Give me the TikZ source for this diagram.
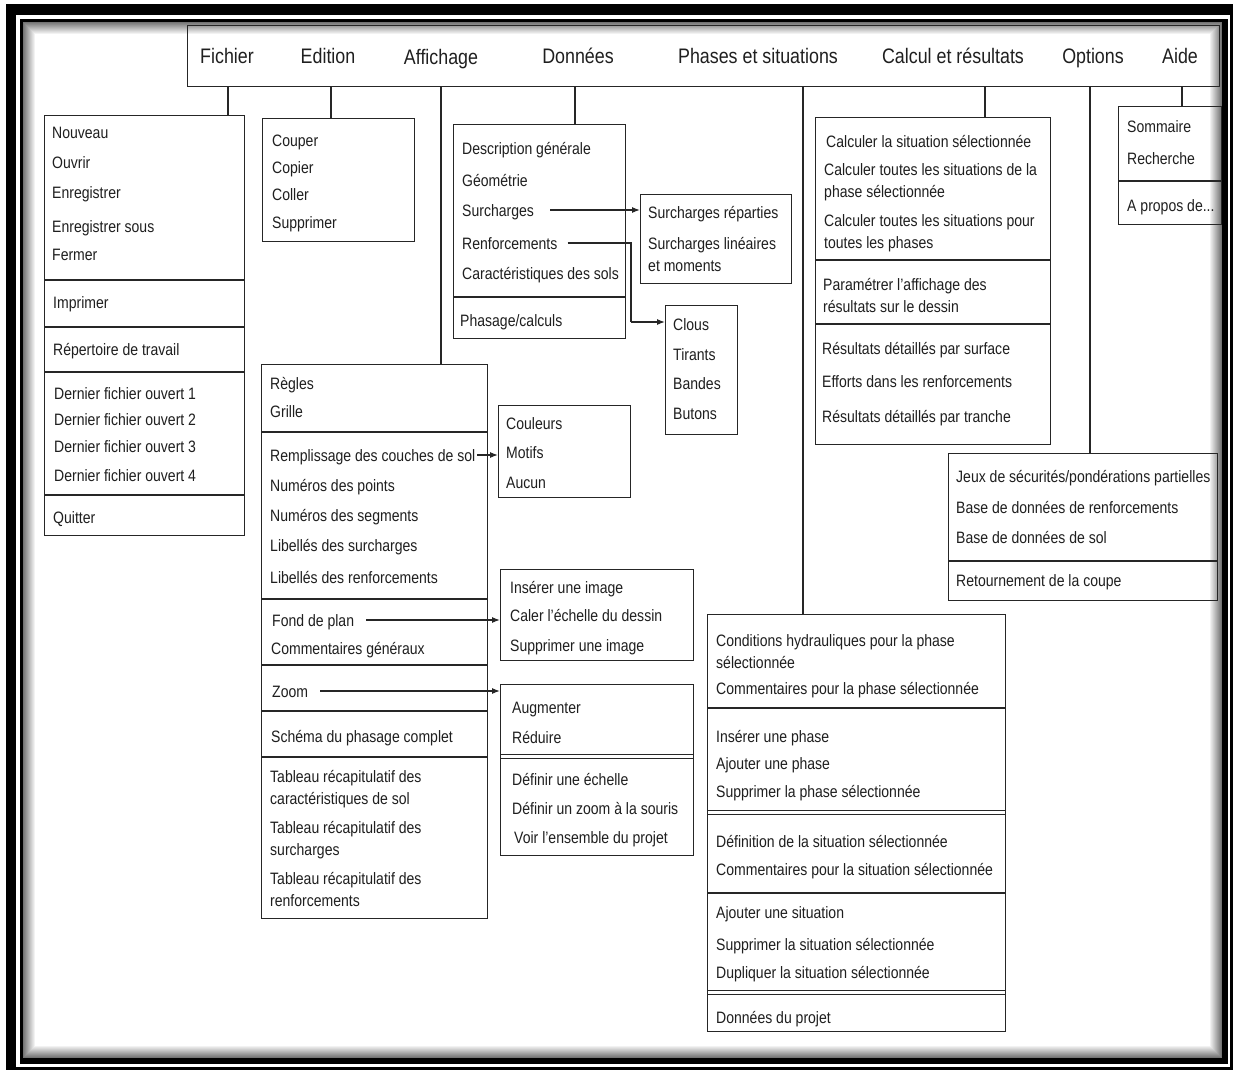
\documentclass[tikz,border=0pt]{standalone}
\usepackage{fontspec}
\setmainfont{Liberation Sans}[FakeStretch=0.85]
\usepackage{tikz}
\usetikzlibrary{arrows.meta}

\tikzset{
  menu/.style={font=\fontsize{21}{24}\selectfont, text=black!88, inner sep=0pt, text height=15pt, text depth=0pt},
  item/.style={font=\fontsize{16.5}{22}\selectfont, text=black!88, inner sep=0pt, anchor=west, text height=15pt, text depth=2pt},
  item2/.style={font=\fontsize{16.5}{22}\selectfont, text=black!88, inner sep=0pt, anchor=west, align=left, yshift=-1.5pt},
  menubox/.style={draw=black!85, line width=1.4pt, anchor=north west, inner sep=0pt},
  sep/.style={draw=black!85, line width=1.4pt},
  link/.style={draw=black!85, line width=1.2pt},
  arr/.style={link, -{Latex[length=8pt,width=6pt]}},
}

\begin{document}
\begin{tikzpicture}[x=1pt,y=-1pt]
   \useasboundingbox (0,0) rectangle (1236,1072);
   % cadre
   \fill[black] (6,4) rectangle (1233,1070);
   \fill[white] (16,15) rectangle (1230,1067);
   \fill[black] (20,19) rectangle (1228,1064);
   \fill[white] (23,22) rectangle (1222,1058);
   \foreach \k in {0,...,11} {
     \pgfmathtruncatemacro\g{55-4.5*\k}
     \draw[black!\g, line width=1pt] (23.5+\k,22.5+\k) rectangle (1221.5-\k,1057.5-\k);
   }

   % barre de menus
   \node[menubox, minimum width=1032pt, minimum height=61pt] (bar) at (187,25) {};
   \node[menu] (mFichier) at (227,56) {Fichier};
   \node[menu] (mEdition) at (328,56) {Edition};
   \node[menu] (mAffichage) at (441,57) {Affichage};
   \node[menu] (mDonnees) at (578,56) {Données};
   \node[menu] (mPhases) at (758,56) {Phases et situations};
   \node[menu] (mCalcul) at (953,56) {Calcul et résultats};
   \node[menu] (mOptions) at (1093,56) {Options};
   \node[menu] (mAide) at (1180,56) {Aide};

   % menus deroulants
   \node[menubox, minimum width=200pt, minimum height=420pt] (bFichier) at (44,115) {};
   \node[menubox, minimum width=152pt, minimum height=123pt] (bEdition) at (262,118) {};
   \node[menubox, minimum width=172pt, minimum height=214pt] (bDonnees) at (453,124) {};
   \node[menubox, minimum width=151pt, minimum height=89pt] (bSurch) at (640,194) {};
   \node[menubox, minimum width=72pt, minimum height=129pt] (bRenf) at (665,305) {};
   \node[menubox, minimum width=226pt, minimum height=554pt] (bAffichage) at (261,364) {};
   \node[menubox, minimum width=132pt, minimum height=92pt] (bCouleurs) at (498,405) {};
   \node[menubox, minimum width=193pt, minimum height=91pt] (bImage) at (500,569) {};
   \node[menubox, minimum width=193pt, minimum height=171pt] (bZoom) at (500,684) {};
   \node[menubox, minimum width=235pt, minimum height=327pt] (bCalcul) at (815,117) {};
   \node[menubox, minimum width=103pt, minimum height=118pt] (bAide) at (1118,106) {};
   \node[menubox, minimum width=269pt, minimum height=147pt] (bOptions) at (948,453) {};
   \node[menubox, minimum width=298pt, minimum height=417pt] (bPhases) at (707,614) {};

   % separateurs
   \foreach \b/\y in {bFichier/280, bFichier/327, bFichier/372, bFichier/495,
                      bDonnees/297, bAffichage/432, bAffichage/599, bAffichage/665,
                      bAffichage/711, bAffichage/757, bCalcul/260, bCalcul/324,
                      bAide/181, bOptions/561, bPhases/708, bPhases/893}
     \draw[sep] (\b.west |- 0,\y) -- (\b.east |- 0,\y);
   \foreach \b/\y in {bZoom/754, bPhases/810, bPhases/990}
     \draw[sep, line width=1pt] (\b.west |- 0,\y) -- (\b.east |- 0,\y)
                                (\b.west |- 0,\y+4) -- (\b.east |- 0,\y+4);

   % Fichier
   \node[item] (iNouveau) at (52,132) {Nouveau};
   \node[item] (iOuvrir) at (52,162) {Ouvrir};
   \node[item] (iEnreg) at (52,192) {Enregistrer};
   \node[item] (iEnregSous) at (52,226) {Enregistrer sous};
   \node[item] (iFermer) at (52,254) {Fermer};
   \node[item] (iImprimer) at (53,302) {Imprimer};
   \node[item] (iRepertoire) at (53,349) {Répertoire de travail};
   \node[item] (iDernierA) at (54,393) {Dernier fichier ouvert 1};
   \node[item] (iDernierB) at (54,419) {Dernier fichier ouvert 2};
   \node[item] (iDernierC) at (54,446) {Dernier fichier ouvert 3};
   \node[item] (iDernierD) at (54,475) {Dernier fichier ouvert 4};
   \node[item] (iQuitter) at (53,517) {Quitter};

   % Edition
   \node[item] (iCouper) at (272,140) {Couper};
   \node[item] (iCopier) at (272,167) {Copier};
   \node[item] (iColler) at (272,194) {Coller};
   \node[item] (iSupprimer) at (272,222) {Supprimer};

   % Donnees
   \node[item] (iDescription) at (462,148) {Description générale};
   \node[item] (iGeometrie) at (462,180) {Géométrie};
   \node[item] (iSurcharges) at (462,210) {Surcharges};
   \node[item] (iRenforcements) at (462,243) {Renforcements};
   \node[item] (iCaract) at (462,273) {Caractéristiques des sols};
   \node[item] (iPhasage) at (460,320) {Phasage/calculs};
   \node[item] (iRepart) at (648,212) {Surcharges réparties};
   \node[item2] (iLineaires) at (648,253) {Surcharges linéaires\\et moments};
   \node[item] (iClous) at (673,324) {Clous};
   \node[item] (iTirants) at (673,354) {Tirants};
   \node[item] (iBandes) at (673,383) {Bandes};
   \node[item] (iButons) at (673,413) {Butons};

   % Affichage
   \node[item] (iRegles) at (270,383) {Règles};
   \node[item] (iGrille) at (270,411) {Grille};
   \node[item] (iRemplissage) at (270,455) {Remplissage des couches de sol};
   \node[item] (iNumPoints) at (270,485) {Numéros des points};
   \node[item] (iNumSegments) at (270,515) {Numéros des segments};
   \node[item] (iLibSurch) at (270,545) {Libellés des surcharges};
   \node[item] (iLibRenf) at (270,577) {Libellés des renforcements};
   \node[item] (iFond) at (272,620) {Fond de plan};
   \node[item] (iComGen) at (271,648) {Commentaires généraux};
   \node[item] (iZoom) at (272,691) {Zoom};
   \node[item] (iSchema) at (271,736) {Schéma du phasage complet};
   \node[item2] (iTabSol) at (270,788) {Tableau récapitulatif des\\caractéristiques de sol};
   \node[item2] (iTabSurch) at (270,839) {Tableau récapitulatif des\\surcharges};
   \node[item2] (iTabRenf) at (270,888) {Tableau récapitulatif des\\renforcements};
   \node[item] (iCouleurs) at (506,423) {Couleurs};
   \node[item] (iMotifs) at (506,452) {Motifs};
   \node[item] (iAucun) at (506,482) {Aucun};
   \node[item] (iInserer) at (510,587) {Insérer une image};
   \node[item] (iCaler) at (510,615) {Caler l'échelle du dessin};
   \node[item] (iSupprImage) at (510,645) {Supprimer une image};
   \node[item] (iAugmenter) at (512,707) {Augmenter};
   \node[item] (iReduire) at (512,737) {Réduire};
   \node[item] (iEchelle) at (512,779) {Définir une échelle};
   \node[item] (iZoomSouris) at (512,808) {Définir un zoom à la souris};
   \node[item] (iEnsemble) at (514,837) {Voir l'ensemble du projet};

   % Phases et situations
   \node[item2] (iHydrau) at (716,650) {Conditions hydrauliques pour la phase\\sélectionnée};
   \node[item] (iComPhase) at (716,688) {Commentaires pour la phase sélectionnée};
   \node[item] (iInsPhase) at (716,736) {Insérer une phase};
   \node[item] (iAjPhase) at (716,763) {Ajouter une phase};
   \node[item] (iSupPhase) at (716,791) {Supprimer la phase sélectionnée};
   \node[item] (iDefSit) at (716,841) {Définition de la situation sélectionnée};
   \node[item] (iComSit) at (716,869) {Commentaires pour la situation sélectionnée};
   \node[item] (iAjSit) at (716,912) {Ajouter une situation};
   \node[item] (iSupSit) at (716,944) {Supprimer la situation sélectionnée};
   \node[item] (iDupSit) at (716,972) {Dupliquer la situation sélectionnée};
   \node[item] (iProjet) at (716,1017) {Données du projet};

   % Calcul et resultats
   \node[item] (iCalcSit) at (826,141) {Calculer la situation sélectionnée};
   \node[item2] (iCalcPhase) at (824,181) {Calculer toutes les situations de la\\phase sélectionnée};
   \node[item2] (iCalcTout) at (824,232) {Calculer toutes les situations pour\\toutes les phases};
   \node[item2] (iParam) at (823,294) {Paramétrer l'affichage des\\résultats sur le dessin};
   \node[item] (iResSurf) at (822,348) {Résultats détaillés par surface};
   \node[item] (iEfforts) at (822,381) {Efforts dans les renforcements};
   \node[item] (iResTranche) at (822,416) {Résultats détaillés par tranche};

   % Options
   \node[item] (iJeux) at (956,476) {Jeux de sécurités/pondérations partielles};
   \node[item] (iBaseRenf) at (956,507) {Base de données de renforcements};
   \node[item] (iBaseSol) at (956,537) {Base de données de sol};
   \node[item] (iRetour) at (956,580) {Retournement de la coupe};

   % Aide
   \node[item] (iSommaire) at (1127,126) {Sommaire};
   \node[item] (iRecherche) at (1127,158) {Recherche};
   \node[item] (iApropos) at (1127,205) {A propos de...};

   % liaisons barre -> menus
   \foreach \b/\x in {bFichier/228, bEdition/331, bAffichage/441, bDonnees/575,
                      bPhases/803, bCalcul/985, bOptions/1090, bAide/1182}
     \draw[link] (bar.south -| \x,0) -- (\b.north -| \x,0);

   % sous-menus
   \draw[arr] ([xshift=16pt]iSurcharges.east) -- (iSurcharges -| bSurch.west);
   \coordinate (kRenf) at (631,322);
   \draw[link] ([xshift=10pt]iRenforcements.east) -| (kRenf);
   \draw[arr] (kRenf) -- (kRenf -| bRenf.west);
   \draw[arr] ([xshift=2pt]iRemplissage.east) -- (iRemplissage -| bCouleurs.west);
   \draw[arr] ([xshift=12pt]iFond.east) -- (iFond -| bImage.west);
   \draw[arr] ([xshift=12pt]iZoom.east) -- (iZoom -| bZoom.west);
\end{tikzpicture}
\end{document}
